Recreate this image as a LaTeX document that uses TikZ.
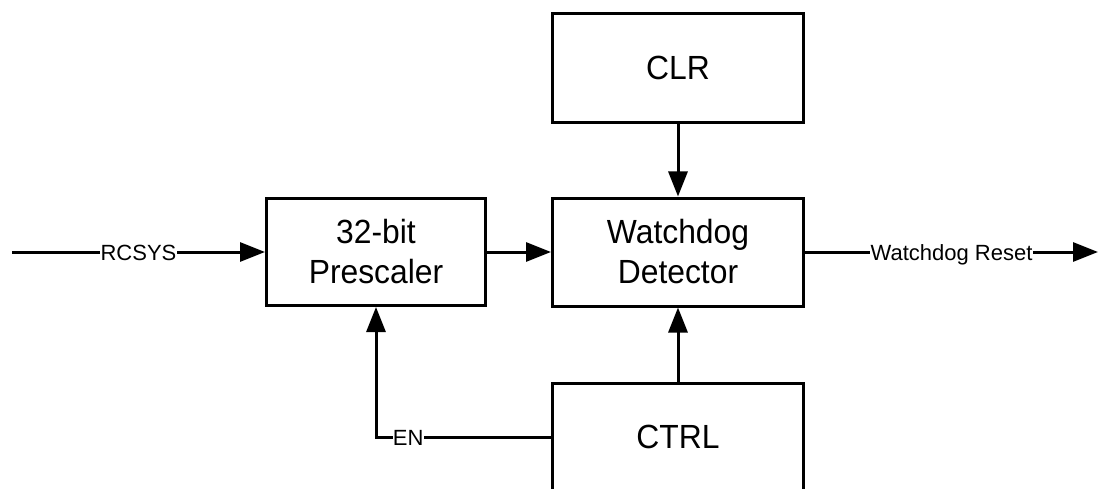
\documentclass[tikz,border=0pt]{standalone}
\usepackage{fontspec}
\setmainfont{Liberation Sans}
\newfontfamily\boxfont[FakeStretch=0.95]{Liberation Sans}
\usetikzlibrary{arrows.meta}
\begin{document}
\begin{tikzpicture}[
    x=1pt, y=-1pt,
    line width=3pt,
    % 方框与连线样式
    block/.style={draw, minimum width=251pt, minimum height=108pt,
        align=center, font=\boxfont\fontsize{33.5}{40}\selectfont},
    sig/.style={-{Triangle[length=25pt,width=19pt]}},
    siglabel/.style={fill=white, inner xsep=1pt, inner ysep=2pt,
        text height=16pt, text depth=0pt,
        font=\fontsize{22}{24}\selectfont},
]
\useasboundingbox (0,0) rectangle (1102,489);

% 方框
\node[block, minimum width=219pt, minimum height=107pt] (pre) at (376,252) {32-bit\\Prescaler};
\node[block] (det) at (678,252) {Watchdog\\Detector};
\node[block, minimum height=109pt] (clr) at (678,68) {CLR};
\node[block] (ctrl) at (678,437) {CTRL};

% 端点
\coordinate (rcin) at (12,252);
\coordinate (rstout) at (1098,252);

% 连线
\draw[sig] (rcin) -- node[siglabel] {RCSYS} (pre.west);
\draw[sig] (pre) -- (det);
\draw[sig] (clr) -- (det);
\draw[sig] (ctrl) -- (det);
\draw[sig] (det.east) -- node[siglabel] {Watchdog Reset} (rstout);
\draw[sig] (ctrl.west) -- (393,437) node[siglabel, anchor=east, inner xsep=0pt, xshift=32pt] {EN}
    -| (pre.south);

\end{tikzpicture}
\end{document}
